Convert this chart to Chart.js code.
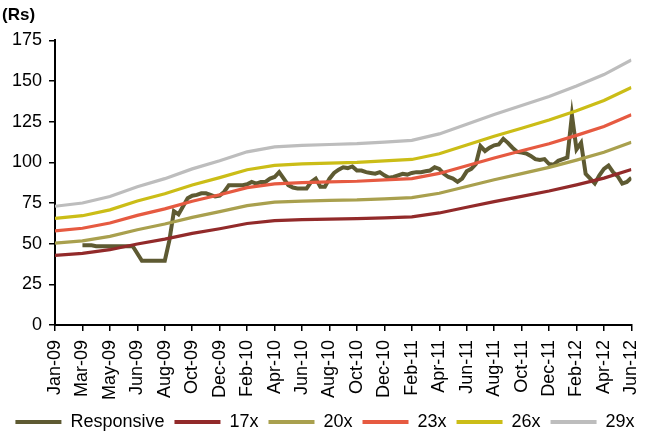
<!DOCTYPE html>
<html>
<head>
<meta charset="utf-8">
<script src="https://cdn.jsdelivr.net/npm/chart.js@4.4.1/dist/chart.umd.min.js"></script>
<style>
  html, body { margin: 0; padding: 0; background: #fff; }
  #chart { display: block; }
</style>
</head>
<body>
<canvas id="chart" width="662" height="436"></canvas>
<script>
// ── Data ───────────────────────────────────────────────────────────────────
const tickLabels = ['Jan-09', 'Mar-09', 'May-09', 'Jun-09', 'Aug-09', 'Oct-09', 'Dec-09',
  'Feb-10', 'Apr-10', 'Jun-10', 'Aug-10', 'Oct-10', 'Dec-10', 'Feb-11', 'Apr-11',
  'Jun-11', 'Aug-11', 'Oct-11', 'Dec-11', 'Feb-12', 'Apr-12', 'Jun-12'];

// price samples, 6 per label interval (first 6 = no data yet)
const STEPS = 6;
const responsive = [
  null, null, null, null, null, null,
  49, 49, 49, 48.5, 48.5, 48.5, 48.5, 48.5, 48.5, 48.5, 48.5, 48.5,
  44, 39.5, 39.5, 39.5, 39.5, 39.5, 39.5,
  52, 70, 68, 73, 78, 79.5, 80, 81, 81, 80, 79, 79.5, 82, 86, 86, 86, 86, 86.5,
  88, 87, 88, 88, 90, 91, 94, 90, 86, 84.5, 84, 84, 84, 88, 90, 85, 85, 90,
  93.5, 95.5, 97, 96.5, 97.5, 95, 95, 94, 93.5, 93, 94, 92, 90.5, 91, 92, 93,
  92.5, 93.5, 94, 94, 94.5, 95, 97, 96, 93, 91, 90, 88, 90, 94.5, 96, 99,
  110, 107, 109, 110.5, 111, 114.5, 112, 109, 106.5, 106, 105.5, 104, 102,
  101.5, 102, 99, 98.5, 101, 102, 103, 129, 108, 112, 93, 90, 87, 92, 96, 98,
  94, 91.5, 87, 88, 90.5
];

// P/E band lines, one value per tick label
const band17 = [42.8, 44, 46.3, 49.8, 52.8, 56.3, 59.2, 62.4, 64.2, 64.8, 65.1,
  65.4, 65.9, 66.5, 68.9, 72.4, 75.9, 79.1, 82.4, 86.2, 90.3, 95.6];
const band20 = [50.3, 51.7, 54.5, 58.6, 62.1, 66.2, 69.7, 73.4, 75.5, 76.2, 76.6,
  76.9, 77.6, 78.3, 81, 85.2, 89.3, 93.1, 96.9, 101.4, 106.2, 112.4];
const band23 = [57.9, 59.5, 62.7, 67.4, 71.4, 76.1, 80.1, 84.5, 86.8, 87.6, 88,
  88.4, 89.2, 90, 93.2, 97.9, 102.7, 107.1, 111.4, 116.6, 122.1, 129.3];
const band26 = [65.5, 67.2, 70.8, 76.2, 80.7, 86.1, 90.6, 95.5, 98.2, 99.1, 99.5,
  100, 100.9, 101.8, 105.3, 110.7, 116.1, 121, 126, 131.8, 138.1, 146.1];
const band29 = [73, 75, 79, 85, 90, 96, 101, 106.5, 109.5, 110.5, 111, 111.5,
  112.5, 113.5, 117.5, 123.5, 129.5, 135, 140.5, 147, 154, 163];

const seriesNames  = ['Responsive', '17x', '20x', '23x', '26x', '29x'];
const seriesColors = ['#5e5a32', '#922a2a', '#a9a04e', '#e65a41', '#cbbd17', '#bdbdbd'];

// ── Build datasets ─────────────────────────────────────────────────────────
const respPoints = responsive.map((v, j) => ({ x: j / STEPS, y: v }));
const bandPoints = arr => arr.map((v, i) => ({ x: i, y: v }));

const allSeries = [respPoints, bandPoints(band17), bandPoints(band20),
  bandPoints(band23), bandPoints(band26), bandPoints(band29)];

const datasets = allSeries.map((data, i) => ({
  label: seriesNames[i],
  data,
  borderColor: seriesColors[i],
  backgroundColor: seriesColors[i],
  borderWidth: i === 0 ? 4 : 3.2,
  pointRadius: 0,
  tension: 0,
  order: i === 0 ? 1 : 0,
}));

// ── Chart ──────────────────────────────────────────────────────────────────
Chart.defaults.font.family = '"Liberation Sans", Arial, sans-serif';
Chart.defaults.font.size = 18;
Chart.defaults.color = '#000';

const LEFT_PAD = 2;

new Chart(document.getElementById('chart'), {
  type: 'line',
  data: { datasets },
  options: {
    responsive: false,
    animation: false,
    layout: { padding: { left: LEFT_PAD, right: 14, top: 3, bottom: -5 } },
    scales: {
      x: {
        type: 'linear',
        min: 0,
        max: tickLabels.length - 1,
        afterFit: s => { s.height = 78; },
        ticks: {
          stepSize: 1,
          autoSkip: false,
          maxRotation: 90,
          minRotation: 90,
          padding: 9,
          callback: v => tickLabels[v],
        },
        grid: { drawOnChartArea: false, tickLength: 6, color: '#000', lineWidth: 1.5 },
        border: { color: '#000', width: 2 },
      },
      y: {
        min: 0,
        max: 175,
        afterFit: s => { s.width = 55 - LEFT_PAD; },
        ticks: { stepSize: 25, padding: 7 },
        grid: { drawOnChartArea: false, tickLength: 6, color: '#000', lineWidth: 1.5 },
        border: { color: '#000', width: 2 },
      },
    },
    plugins: {
      title: {
        display: true,
        text: '(Rs)',
        align: 'start',
        font: { size: 17, weight: 'bold' },
        padding: { top: 2, bottom: 15 },
      },
      legend: {
        position: 'bottom',
        labels: {
          boxWidth: 46,
          boxHeight: 4,
          padding: 10,
          font: { size: 18 },
          sort: (a, b) => a.datasetIndex - b.datasetIndex,
          generateLabels: chart =>
            Chart.defaults.plugins.legend.labels.generateLabels(chart)
              .map(l => ({ ...l, lineWidth: 0 })),
        },
      },
      tooltip: { enabled: false },
    },
  },
});
</script>
</body>
</html>
